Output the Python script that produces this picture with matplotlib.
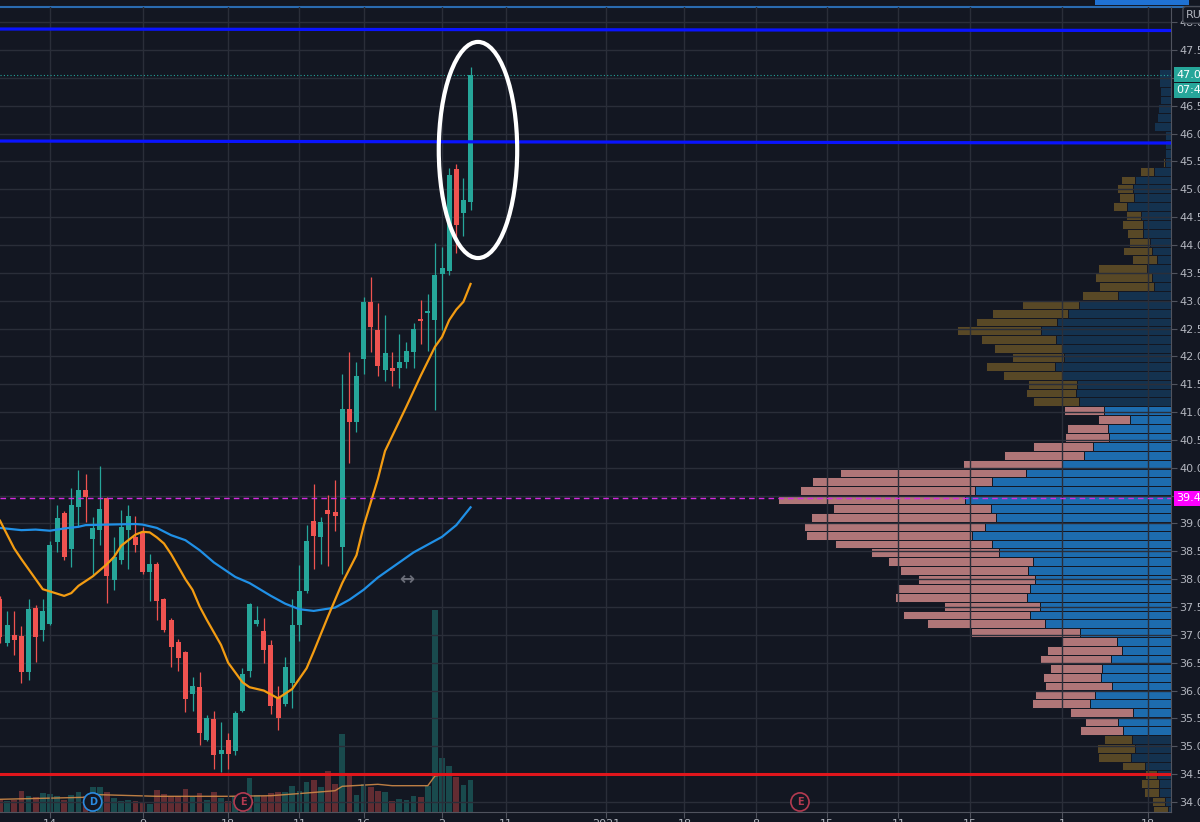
"""
Daily candles with moving averages, volume and a visible-range volume profile,
drawn in the dark TradingView look.
"""

import numpy as np
import matplotlib
matplotlib.use("Agg")
import matplotlib.pyplot as plt
from matplotlib.patches import Ellipse, Rectangle
from matplotlib.lines import Line2D
from matplotlib.transforms import blended_transform_factory


# ── Colour palette ───────────────────────────────────────────────────
_BG      = "#131722"
_GRID    = "#2a2e39"
_AXIS    = "#50535e"
_TEXT    = "#b2b5be"
_UP      = "#26a69a"
_DOWN    = "#ef5350"
_MA_FAST = "#f39c12"
_MA_SLOW = "#2090e6"
_VP_UP   = "#1d6cae"
_VP_DN   = "#b07678"
_VP_UP_D = "#14324f"
_VP_DN_D = "#584826"


# ── Candles (daily, RUB) ─────────────────────────────────────────────
opens = [37.64, 36.86, 36.99, 36.98, 36.34, 37.49, 37.09, 37.20, 38.67, 39.18,
         38.54, 39.30, 39.60, 38.73, 38.88, 39.45, 37.98, 38.34, 38.88, 38.75,
         38.83, 38.12, 38.28, 37.64, 37.27, 36.88, 36.69, 35.93, 36.06, 35.11,
         35.49, 34.87, 35.12, 34.92, 35.63, 36.36, 37.20, 37.07, 36.82, 35.88,
         35.75, 36.13, 37.18, 37.78, 39.05, 38.75, 39.24, 39.20, 38.57, 41.05,
         40.82, 41.95, 42.98, 42.47, 41.76, 41.80, 41.79, 41.89, 42.07, 42.67,
         42.77, 42.66, 43.47, 43.54, 45.36, 44.57, 44.78]
highs = [37.70, 37.43, 37.42, 37.16, 37.64, 37.54, 37.64, 38.68, 39.33, 39.22,
         39.63, 39.96, 39.89, 39.12, 40.03, 39.47, 38.76, 39.24, 39.33, 39.14,
         38.94, 38.46, 38.30, 37.66, 37.30, 36.92, 36.71, 36.25, 36.33, 35.56,
         35.63, 35.43, 35.24, 35.63, 36.40, 37.58, 37.52, 37.31, 36.91, 36.08,
         36.61, 37.64, 38.25, 38.97, 39.70, 39.12, 39.51, 39.78, 41.68, 42.08,
         41.89, 43.06, 43.43, 42.96, 42.74, 42.07, 42.40, 42.25, 42.60, 43.02,
         43.12, 44.04, 43.97, 45.39, 45.45, 45.21, 47.20]
lows = [36.85, 36.80, 36.64, 36.14, 36.19, 36.51, 36.89, 37.18, 38.48, 38.34,
        38.22, 38.94, 39.02, 38.06, 38.61, 37.58, 37.81, 38.28, 38.18, 38.48,
        38.10, 37.60, 37.27, 37.06, 36.42, 36.36, 35.61, 35.64, 35.03, 35.09,
        34.60, 34.53, 34.59, 34.85, 35.61, 36.25, 37.16, 36.50, 35.58, 35.29,
        35.72, 35.69, 36.89, 37.76, 38.18, 38.28, 38.24, 38.87, 38.10, 40.09,
        40.65, 41.68, 42.07, 41.65, 41.56, 41.46, 41.44, 41.79, 41.80, 42.22,
        42.10, 41.04, 42.47, 43.46, 43.86, 44.16, 44.63]
closes = [36.96, 37.18, 36.91, 36.34, 37.46, 36.97, 37.42, 38.62, 39.10, 38.39,
          39.33, 39.60, 39.48, 38.91, 39.26, 38.06, 38.39, 38.94, 39.14, 38.61,
          38.12, 38.28, 37.60, 37.09, 36.79, 36.59, 35.85, 36.08, 35.24, 35.50,
          34.84, 34.93, 34.86, 35.60, 36.29, 37.55, 37.26, 36.72, 35.73, 35.50,
          36.42, 37.17, 37.79, 38.69, 38.77, 39.03, 39.17, 39.13, 41.05, 40.82,
          41.65, 42.98, 42.53, 41.83, 42.06, 41.74, 41.90, 42.10, 42.50, 42.64,
          42.82, 43.46, 43.58, 45.26, 44.36, 44.81, 47.055]
volumes = [12, 10.7, 12.3, 20.7, 16.3, 15, 19, 18, 16.3, 11.7,
           17.3, 19.7, 15.7, 24.7, 24.7, 20.3, 13.7, 10.7, 12.3, 10.7,
           9.7, 8.3, 22.3, 18.3, 15.7, 16.3, 23, 15, 19, 12.3,
           19.7, 14, 10.7, 15.7, 12.3, 34, 16.7, 15.7, 19, 20,
           20, 25.7, 21.3, 30, 32.3, 25, 41.3, 28, 78, 39,
           17.3, 28, 25, 21.3, 19.7, 11.3, 13.3, 12.3, 16.3, 15,
           25.7, 202, 54, 46, 35, 27, 32]

# moving averages, read at candle positions
ma_fast_x = [0, 2, 3, 6, 9, 10, 11, 13, 15, 16, 17, 19, 20, 21, 22, 23, 24, 26,
             27, 28, 29, 31, 32, 34, 35, 37, 39, 41, 43, 44, 46, 48, 50, 51,
             53, 54, 57, 59, 61, 62, 63, 64, 65, 66]
ma_fast_y = [39.05, 38.55, 38.36, 37.82, 37.70, 37.75, 37.88, 38.05, 38.27,
             38.40, 38.60, 38.80, 38.85, 38.84, 38.75, 38.64, 38.45, 38.00,
             37.81, 37.51, 37.27, 36.82, 36.50, 36.15, 36.06, 36.00, 35.86,
             36.03, 36.40, 36.70, 37.33, 37.93, 38.43, 38.95, 39.80, 40.30,
             41.10, 41.65, 42.17, 42.35, 42.65, 42.84, 42.98, 43.30]
ma_slow_x = [0, 3, 5, 7, 9, 11, 12, 15, 19, 20, 22, 24, 26, 28, 30, 33, 35, 38,
             40, 42, 44, 47, 49, 51, 53, 56, 58, 62, 64, 66]
ma_slow_y = [38.92, 38.88, 38.89, 38.87, 38.91, 38.94, 38.97, 38.98, 38.99,
             38.98, 38.92, 38.79, 38.70, 38.52, 38.30, 38.04, 37.93, 37.70,
             37.56, 37.46, 37.43, 37.49, 37.63, 37.81, 38.03, 38.30, 38.48,
             38.76, 38.97, 39.29]
vol_ma_x = [0, 12, 14, 22, 32, 38, 43, 47, 48, 53, 55, 60, 61, 63, 66]
vol_ma_y = [12.7, 14.7, 17.3, 15.7, 15.7, 16.3, 19, 21.3, 25.7, 27.7, 26.3,
            26.3, 36, 38, 37.7]

# volume profile rows, bottom to top (up / down volume)
vp_bottom = 33.77
vp_step = 0.1594
vp_up = [3, 6, 12, 12, 14, 26, 40, 36, 39, 48, 53, 38, 81, 76, 59, 70, 69, 60,
         49, 54, 91, 126, 141, 131, 144, 141, 136, 143, 138, 172, 179, 199, 186,
         175, 180, 206, 196, 179, 145, 109, 87, 78, 62, 63, 41, 67, 92, 95, 94,
         109, 116, 107, 109, 115, 130, 114, 103, 92, 53, 17, 19, 24, 14, 19, 21,
         28, 28, 30, 44, 37, 38, 36, 17, 6, 6, 6, 6, 17, 14, 13, 11, 11, 12, 12]
vp_down = [15, 13, 15, 18, 12, 23, 33, 38, 28, 43, 33, 63, 58, 60, 67, 58, 52,
           71, 75, 55, 109, 118, 127, 96, 132, 133, 117, 128, 145, 128, 157, 166,
           181, 185, 158, 187, 175, 180, 186, 99, 80, 60, 44, 41, 32, 40, 46, 50,
           49, 59, 69, 52, 68, 75, 84, 81, 76, 57, 36, 55, 57, 49, 25, 29, 21, 16,
           21, 15, 14, 15, 16, 14, 14, 2, 0, 0, 0, 0, 0, 0, 0, 0, 0, 0]
value_area = (9, 45)  # rows inside the value area

# drawn levels
top_line = (47.877, 47.85)
mid_line = (45.866, 45.83)
support = 34.50
poc_price = 39.455
last_price = 47.055

price_ticks = [34.0, 34.5, 35.0, 35.5, 36.0, 36.5, 37.0, 37.5, 38.0, 38.5,
               39.0, 40.0, 40.5, 41.0, 41.5, 42.0, 42.5, 43.0, 43.5, 44.0,
               44.5, 45.0, 45.5, 46.0, 46.5, 47.5, 48.0]
date_pos = [7, 20, 32, 42, 51, 62, 71, 85, 96, 106, 116, 126, 136, 149, 161]
date_labels = ["14", "9", "18", "11", "16", "2", "11", "2021", "18", "8",
               "15", "11", "15", "1", "18"]

X_MAX = 164.24
Y_MIN, Y_MAX = 33.82, 48.272


def _candles(ax):
    for i, (o, h, l, c) in enumerate(zip(opens, highs, lows, closes)):
        col = _UP if c >= o else _DOWN
        ax.vlines(i, l, h, color=col, lw=0.9, zorder=3)
        ax.bar(i, max(abs(c - o), 0.025), bottom=min(o, c), width=0.7,
               color=col, zorder=4)


def _volume(axv):
    cols = [_UP if c >= o else _DOWN for o, c in zip(opens, closes)]
    axv.bar(range(len(volumes)), volumes, width=0.8, color=cols, alpha=0.36)
    axv.plot(vol_ma_x, vol_ma_y, color="#d08a48", lw=1.0, alpha=0.9)
    axv.set_ylim(0, 805)
    axv.axis("off")


def _profile(axp):
    n = len(vp_up)
    centers = vp_bottom + (np.arange(n) + 0.5) * vp_step
    inside = [value_area[0] <= k <= value_area[1] for k in range(n)]
    up_c = [_VP_UP if f else _VP_UP_D for f in inside]
    dn_c = [_VP_DN if f else _VP_DN_D for f in inside]
    axp.barh(centers, vp_up, height=vp_step, left=0, color=up_c,
             edgecolor=_BG, linewidth=0.7)
    axp.barh(centers, vp_down, height=vp_step, left=vp_up, color=dn_c,
             edgecolor=_BG, linewidth=0.7)
    axp.set_xlim(1171, 0)
    axp.axis("off")


def _tag(ax, price, text, fc, tc="white", ec="none"):
    tr = blended_transform_factory(ax.transAxes, ax.transData)
    ax.text(1.0045, price, text, transform=tr, ha="left", va="center",
            fontsize=8, color=tc, clip_on=False, zorder=10,
            bbox=dict(boxstyle="square,pad=0.22", fc=fc, ec=ec, lw=1))


def _marker(ax, x, letter, col):
    ax.text(x, 34.0, letter, ha="center", va="center", fontsize=7,
            color=col, fontweight="bold", zorder=8,
            bbox=dict(boxstyle="circle,pad=0.42", fc=_BG, ec=col, lw=1.2))


# ── Figure ───────────────────────────────────────────────────────────
fig = plt.figure(figsize=(12, 8.22), dpi=100, facecolor=_BG)
pos = [0, 10 / 822, 1171 / 1200, 805 / 822]

ax = fig.add_axes(pos)
axv = fig.add_axes(pos, sharex=ax)
axp = fig.add_axes(pos, sharey=ax)
axv.set_zorder(0)
axp.set_zorder(1)
ax.set_zorder(2)
for a in (ax, axv, axp):
    a.patch.set_visible(False)

ax.set_xlim(0, X_MAX)
ax.set_ylim(Y_MIN, Y_MAX)

_volume(axv)
_profile(axp)
_candles(ax)

ax.plot(ma_slow_x, ma_slow_y, color=_MA_SLOW, lw=1.6, zorder=5)
ax.plot(ma_fast_x, ma_fast_y, color=_MA_FAST, lw=1.6, zorder=5)

# levels
ax.plot([0, X_MAX], top_line, color="#0a14ff", lw=2.3, zorder=6)
ax.plot([0, X_MAX], mid_line, color="#0a14ff", lw=2.3, zorder=6)
ax.axhline(support, color="#e0161c", lw=2.2, zorder=6)
ax.axhline(poc_price, color="#d52be0", lw=1.0, ls=(0, (4, 3)), zorder=6)
ax.axhline(last_price, color=_UP, lw=0.8, ls=(0, (1, 2)), zorder=6)

ax.add_patch(Ellipse((67.04, 45.705), 11.0, 3.88, fill=False,
                     ec="white", lw=3, zorder=9))
ax.text(57.1, 37.98, "↔", ha="center", va="center", fontsize=13,
        color="#6a6d78", fontweight="bold", zorder=8)

_marker(ax, 13.0, "D", "#2a8be0")
_marker(ax, 34.1, "E", "#b33a50")
_marker(ax, 112.2, "E", "#b33a50")

# grid and axes (47.0 and 39.5 sit under the price tags)
ax.set_yticks(np.arange(34, 48.01, 0.5), minor=False)
ax.set_yticklabels([f"{v:.3f}" if v in price_ticks else ""
                    for v in np.arange(34, 48.01, 0.5)])
ax.set_xticks(date_pos)
ax.set_xticklabels(date_labels)
ax.grid(True, color=_GRID, lw=1, zorder=0)
ax.yaxis.tick_right()
ax.tick_params(axis="y", colors=_AXIS, labelcolor=_TEXT, labelsize=8,
               length=4, pad=2)
ax.tick_params(axis="x", colors=_AXIS, labelcolor=_TEXT, labelsize=8,
               length=4, pad=1)
for side in ("left", "top"):
    ax.spines[side].set_visible(False)
for side in ("right", "bottom"):
    ax.spines[side].set_color(_AXIS)

# price tags on the scale
_tag(ax, last_price, "47.055", _UP)
_tag(ax, 46.78, "07:43:01", _UP)
_tag(ax, poc_price, "39.455", "#ff00ff")
tr = blended_transform_factory(ax.transAxes, ax.transData)
ax.text(1.013, 48.13, "RUB", transform=tr, ha="left", va="center",
        fontsize=8, color=_TEXT, clip_on=False, zorder=10,
        bbox=dict(boxstyle="round,pad=0.3", fc=_BG, ec="#4a4e59", lw=1))

# window chrome along the top
fig.add_artist(Line2D([0, 1], [1 - 6.7 / 822] * 2, color="#2a6bb0", lw=1.5,
                      transform=fig.transFigure))
fig.add_artist(Rectangle((1095 / 1200, 1 - 5.5 / 822), 94 / 1200, 5.5 / 822,
                         transform=fig.transFigure, fc="#1f72d4", ec="none"))

fig.savefig("out.png", dpi=100, facecolor=_BG)
